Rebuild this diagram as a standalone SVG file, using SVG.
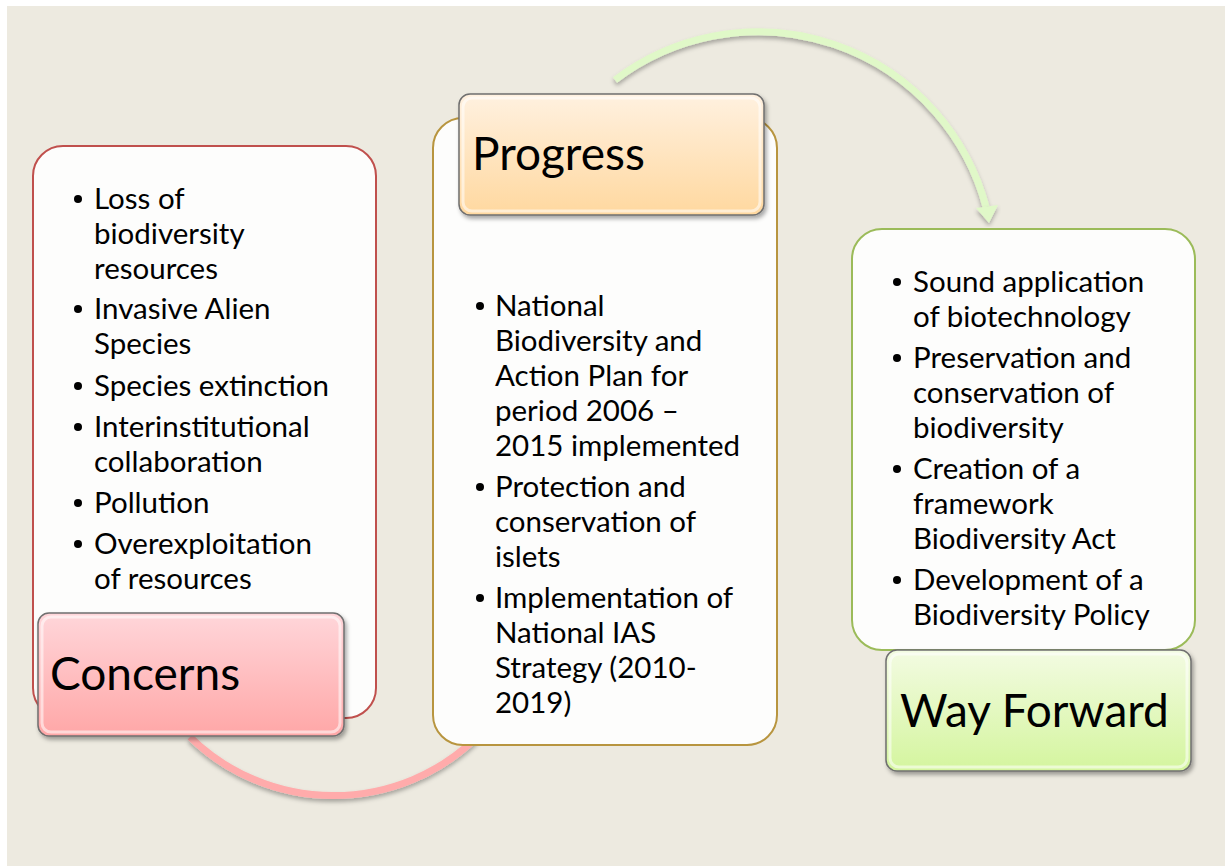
<svg xmlns="http://www.w3.org/2000/svg" width="1225" height="866" viewBox="0 0 1225 866">
<defs>
<style>
.bg{fill:#edeae0}
.card{fill:#fdfdfc;stroke-width:2}
.lbl{stroke:#6f6f6f;stroke-width:1.5}
.hl{fill:none;stroke:#ffffff;stroke-opacity:0.55;stroke-width:3}
.t{font-family:Lato,"Open Sans","Liberation Sans",sans-serif;font-size:29.5px;fill:#000}
.h{font-family:Lato,"Open Sans","Liberation Sans",sans-serif;font-size:46px;fill:#000}
.arc{fill:none;stroke-width:7;stroke-linecap:butt}
</style>
<filter id="sh" x="-10%" y="-10%" width="120%" height="130%">
<feDropShadow dx="2" dy="3" stdDeviation="2" flood-color="#000" flood-opacity="0.35"/>
</filter>
<filter id="sh2" x="-10%" y="-10%" width="120%" height="130%">
<feDropShadow dx="0" dy="3" stdDeviation="2" flood-color="#000" flood-opacity="0.3"/>
</filter>
<linearGradient id="gC" x1="0" y1="0" x2="0" y2="1">
<stop offset="0" stop-color="#ffd6da"/>
<stop offset="1" stop-color="#ffa7a7"/>
</linearGradient>
<linearGradient id="gP" x1="0" y1="0" x2="0" y2="1">
<stop offset="0" stop-color="#fff1e0"/>
<stop offset="1" stop-color="#ffd89f"/>
</linearGradient>
<linearGradient id="gW" x1="0" y1="0" x2="0" y2="1">
<stop offset="0" stop-color="#f3fbe2"/>
<stop offset="1" stop-color="#d4f59e"/>
</linearGradient>
</defs>
<rect x="0" y="0" width="1225" height="866" fill="#ffffff"/>
<rect class="bg" x="7" y="6" width="1218" height="860"/>

<g id="connectors">
<path class="arc" filter="url(#sh2)" stroke="#ffabab" d="M190,737 A205,205 0 0 0 476,738"/>
<path class="arc" filter="url(#sh2)" stroke="#e0f8c8" d="M615,80 A236,236 0 0 1 986,207"/>
<polygon filter="url(#sh2)" fill="#e0f8c8" points="976,208 998,205 989,223"/>
</g>

<g id="concerns">
<rect class="card" x="33" y="146" width="343" height="572" rx="30" stroke="#c0504d"/>
<g class="t">
<text x="94" y="209">Loss of</text>
<text x="94" y="244">biodiversity</text>
<text x="94" y="279">resources</text>
<text x="94" y="319">Invasive Alien</text>
<text x="94" y="354">Species</text>
<text x="94" y="396">Species extinction</text>
<text x="94" y="437">Interinstitutional</text>
<text x="94" y="472">collaboration</text>
<text x="94" y="513">Pollution</text>
<text x="94" y="554">Overexploitation</text>
<text x="94" y="589">of resources</text>
</g>
<g fill="#000">
<circle cx="78" cy="199" r="4"/>
<circle cx="78" cy="309" r="4"/>
<circle cx="78" cy="386" r="4"/>
<circle cx="78" cy="427" r="4"/>
<circle cx="78" cy="503" r="4"/>
<circle cx="78" cy="544" r="4"/>
</g>
<rect class="lbl" filter="url(#sh)" x="38" y="613" width="306" height="123" rx="11" fill="url(#gC)"/>
<rect class="hl" x="42" y="617" width="298" height="115" rx="9"/>
<text class="h" x="50" y="690">Concerns</text>
</g>

<g id="progress">
<rect class="card" x="433" y="118" width="344" height="627" rx="30" stroke="#b8953f"/>
<g class="t">
<text x="495" y="316">National</text>
<text x="495" y="351">Biodiversity and</text>
<text x="495" y="386">Action Plan for</text>
<text x="495" y="421">period 2006 –</text>
<text x="495" y="456">2015 implemented</text>
<text x="495" y="497">Protection and</text>
<text x="495" y="532">conservation of</text>
<text x="495" y="567">islets</text>
<text x="495" y="608">Implementation of</text>
<text x="495" y="643">National IAS</text>
<text x="495" y="678">Strategy (2010-</text>
<text x="495" y="713">2019)</text>
</g>
<g fill="#000">
<circle cx="480" cy="306" r="4"/>
<circle cx="480" cy="487" r="4"/>
<circle cx="480" cy="598" r="4"/>
</g>
<rect class="lbl" filter="url(#sh)" x="459" y="94" width="305" height="121" rx="11" fill="url(#gP)"/>
<rect class="hl" x="463" y="98" width="297" height="113" rx="9"/>
<text class="h" x="472" y="170">Progress</text>
</g>

<g id="way-forward">
<rect class="card" x="852" y="229" width="343" height="421" rx="30" stroke="#9bbb59"/>
<g class="t">
<text x="913" y="292">Sound application</text>
<text x="913" y="327">of biotechnology</text>
<text x="913" y="368">Preservation and</text>
<text x="913" y="403">conservation of</text>
<text x="913" y="438">biodiversity</text>
<text x="913" y="479">Creation of a</text>
<text x="913" y="514">framework</text>
<text x="913" y="549">Biodiversity Act</text>
<text x="913" y="590">Development of a</text>
<text x="913" y="625">Biodiversity Policy</text>
</g>
<g fill="#000">
<circle cx="897" cy="282" r="4"/>
<circle cx="897" cy="358" r="4"/>
<circle cx="897" cy="469" r="4"/>
<circle cx="897" cy="580" r="4"/>
</g>
<rect class="lbl" filter="url(#sh)" x="886" y="650" width="305" height="121" rx="11" fill="url(#gW)"/>
<rect class="hl" x="890" y="654" width="297" height="113" rx="9"/>
<text class="h" x="900" y="727">Way Forward</text>
</g>
</svg>
